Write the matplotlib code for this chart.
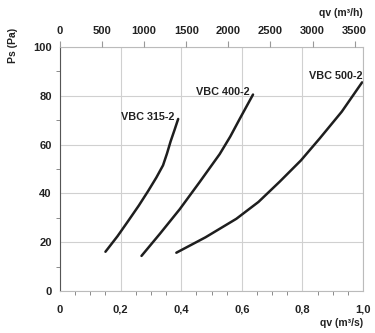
import matplotlib.pyplot as plt
import numpy as np

plt.rcParams['font.family'] = ['Liberation Sans', 'DejaVu Sans']
plt.rcParams['font.weight'] = 'bold'

# curves: qv (m3/s) vs Ps (Pa)
names = ["VBC 315-2", "VBC 400-2", "VBC 500-2"]
q315 = [0.150, 0.190, 0.225, 0.260, 0.291, 0.318, 0.340, 0.353, 0.365, 0.378, 0.390]
p315 = [16.1, 22.5, 28.7, 35.0, 41.0, 46.5, 51.5, 56.3, 61.3, 66.0, 70.5]
q400 = [0.269, 0.330, 0.395, 0.460, 0.527, 0.562, 0.593, 0.615, 0.637]
p400 = [14.4, 23.5, 33.5, 44.5, 56.1, 63.3, 70.5, 75.5, 80.5]
q500 = [0.384, 0.480, 0.582, 0.655, 0.725, 0.795, 0.857, 0.930, 0.997]
p500 = [15.7, 22.0, 29.6, 36.5, 44.8, 53.5, 62.5, 73.5, 85.5]
label_pos = [(0.291, 71.2), (0.538, 81.5), (0.91, 88.3)]

fig = plt.figure(figsize=(3.75, 3.33), dpi=100)
ax = fig.add_axes([0.16, 0.126, 0.808, 0.733])

for q, p in [(q315, p315), (q400, p400), (q500, p500)]:
    ax.plot(q, p, color="#1e1e1e", linewidth=1.8, solid_capstyle='round',
            solid_joinstyle='round')

for name, (x, y) in zip(names, label_pos):
    ax.text(x, y, name, fontsize=7.8, ha='center', va='center', color="#222")

ax.set_xlim(0, 1.0)
ax.set_ylim(0, 100)
ax.set_xticks([0, 0.2, 0.4, 0.6, 0.8, 1.0])
ax.set_xticklabels(["0", "0,2", "0,4", "0,6", "0,8", "1,0"])
ax.set_yticks([0, 20, 40, 60, 80, 100])
ax.set_yticks(np.arange(0, 101, 10), minor=True)
ax.set_xticks(np.arange(0, 1.01, 0.05), minor=True)
ax.grid(True, color="#d0d0d0", linewidth=0.8)
ax.tick_params(axis='x', labelsize=8, colors="#222", length=0, pad=10)
ax.tick_params(axis='y', labelsize=8, colors="#222", length=0, pad=6)
ax.tick_params(which='minor', length=3, color="#777", direction='out')
ax.set_axisbelow(True)
for s in ['top', 'right', 'bottom']:
    ax.spines[s].set_color("#bbbbbb")
ax.spines['left'].set_color("#555")

ax2 = ax.twiny()
ax2.set_xlim(0, 3600)
ax2.set_xticks([0, 500, 1000, 1500, 2000, 2500, 3000, 3500])
ax2.tick_params(labelsize=8, colors="#222", length=4, color="#999",
                direction='out', pad=4)
for s in ax2.spines.values():
    s.set_visible(False)

fig.text(0.035, 0.865, "Ps (Pa)", rotation=90, fontsize=7.5, ha='center', va='center', color="#222")
fig.text(0.968, 0.961, "qv (m\u00b3/h)", fontsize=7.5, ha='right', va='center', color="#222")
fig.text(0.968, 0.03, "qv (m\u00b3/s)", fontsize=7.5, ha='right', va='center', color="#222")

fig.savefig("out.png", dpi=100, facecolor="white")
